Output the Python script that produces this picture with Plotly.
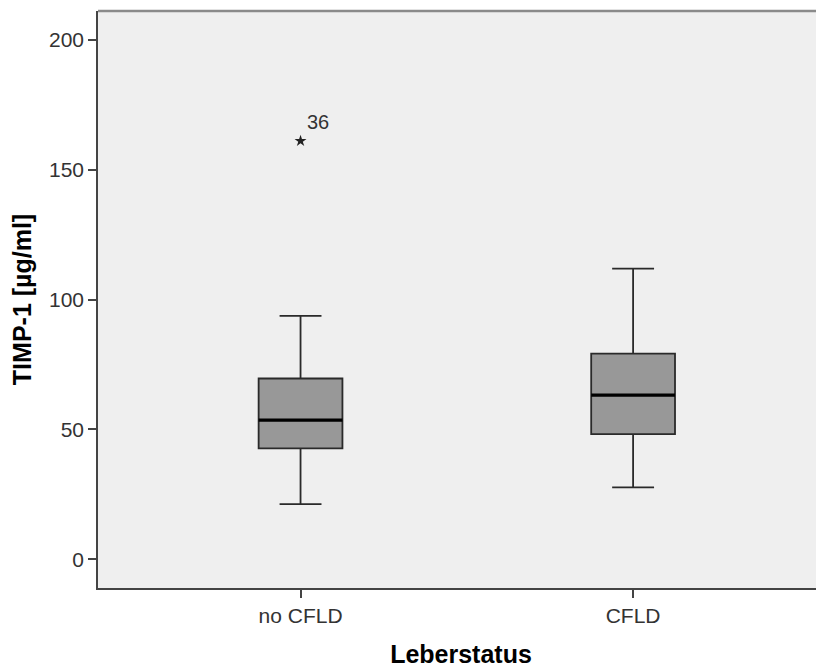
import plotly.graph_objects as go

categories = ["no CFLD", "CFLD"]
q1 = [42.7, 48.2]
median = [53.6, 63.2]
q3 = [69.6, 79.2]
lower_whisker = [21.3, 27.7]
upper_whisker = [93.7, 111.9]
outlier_group = [0]
outlier_value = [161.0]
outlier_label = ["36"]
y_ticks = [0, 50, 100, 150, 200]

pos = list(range(len(categories)))
box_w = 0.252
font = "Liberation Sans, Arial, sans-serif"

fig = go.Figure()
fig.add_trace(go.Box(
    x=pos, q1=q1, median=median, q3=q3,
    lowerfence=lower_whisker, upperfence=upper_whisker,
    width=box_w, whiskerwidth=0.5,
    fillcolor="#989898", line=dict(color="#2a2a2a", width=1.8),
    boxpoints=False, hoverinfo="skip", showlegend=False,
))
mx, my = [], []
for p, m in zip(pos, median):
    mx += [p - box_w / 2, p + box_w / 2, None]
    my += [m, m, None]
fig.add_trace(go.Scatter(x=mx, y=my, mode="lines",
                         line=dict(color="#000000", width=3.2),
                         showlegend=False, hoverinfo="skip"))
fig.add_trace(go.Scatter(
    x=[pos[g] for g in outlier_group], y=outlier_value, mode="markers",
    marker=dict(symbol="star", size=9, color="#222222"),
    showlegend=False, hoverinfo="skip"))
for g, v, t in zip(outlier_group, outlier_value, outlier_label):
    fig.add_annotation(x=pos[g], y=v, text=t, showarrow=False,
                       xanchor="left", yanchor="bottom", xshift=4, yshift=6,
                       font=dict(family=font, size=20, color="#333333"))

fig.add_shape(type="line", xref="paper", yref="paper", x0=0, x1=1, y0=1, y1=1,
              line=dict(color="#8a8a8a", width=2.5))

fig.update_layout(
    width=816, height=660,
    margin=dict(l=90, r=0, t=3, b=80),
    plot_bgcolor="#efefef", paper_bgcolor="#ffffff",
    font=dict(family=font, size=21, color="#333333"),
    xaxis=dict(range=[-0.609, 1.574], tickvals=pos, ticktext=categories,
               showgrid=False, zeroline=False, showline=True,
               linecolor="#444444", linewidth=1.5,
               ticks="outside", ticklen=8, tickcolor="#444444", tickwidth=1.5,
               title=dict(text="<b>Leberstatus</b>", standoff=24,
                          font=dict(family=font, size=25, color="#000000"))),
    yaxis=dict(range=[-11, 211], tickvals=y_ticks,
               showgrid=False, zeroline=False, showline=True,
               linecolor="#444444", linewidth=1.5,
               ticks="outside", ticklen=8, tickcolor="#444444", tickwidth=1.5,
               title=dict(text="<b>TIMP-1 [µg/ml]</b>", standoff=15,
                          font=dict(family=font, size=25, color="#000000"))),
)

fig.write_html("out.html")
